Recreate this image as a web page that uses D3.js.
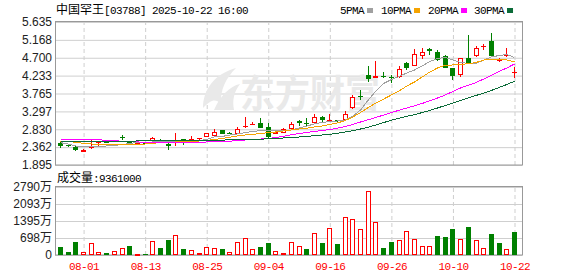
<!DOCTYPE html>
<html>
<head>
<meta charset="utf-8">
<title>中国罕王[03788]</title>
<script src="https://cdn.jsdelivr.net/npm/d3@7"></script>
<style>
  body { margin: 0; background: #fff; }
  svg { display: block; }
</style>
</head>
<body>
<div id="chart"></div>
<script>
// daily bars, 2025-07-29 .. 2025-10-22
var dates = ["07-29","07-30","07-31","08-01","08-04","08-05","08-06","08-07","08-08","08-11",
  "08-12","08-13","08-14","08-15","08-18","08-19","08-20","08-21","08-22","08-25",
  "08-26","08-27","08-28","08-29","09-01","09-02","09-03","09-04","09-05","09-08",
  "09-09","09-10","09-11","09-12","09-15","09-16","09-17","09-18","09-19","09-22",
  "09-23","09-24","09-25","09-26","09-29","09-30","10-02","10-03","10-06","10-08",
  "10-09","10-10","10-13","10-14","10-15","10-16","10-17","10-20","10-21","10-22"];

var opens = [2.463,2.419,2.366,2.235,2.348,2.463,2.505,2.505,2.615,2.489,
  2.437,2.479,2.523,2.549,2.452,2.541,2.568,2.568,2.568,2.636,
  2.654,2.811,2.740,2.706,2.876,2.960,2.994,2.897,2.706,2.732,
  2.829,3.046,2.986,2.986,3.159,3.033,3.072,3.072,3.378,3.700,
  4.249,4.178,4.231,4.197,4.184,4.550,4.497,4.733,4.929,4.843,
  4.746,4.427,4.249,4.681,4.733,4.981,5.130,4.628,4.738,4.314];
var highs = [2.484,2.432,2.379,2.303,2.536,2.531,2.518,2.549,2.680,2.502,
  2.497,2.489,2.620,2.568,2.463,2.740,2.575,2.654,2.602,2.745,
  2.829,2.816,2.753,2.897,3.138,3.020,3.125,3.002,2.772,2.850,
  3.007,3.059,3.112,3.221,3.172,3.229,3.085,3.295,3.713,3.857,
  4.497,4.628,4.335,4.249,4.497,4.597,4.937,4.955,4.963,4.903,
  4.759,4.437,4.699,5.303,5.020,5.047,5.355,4.681,4.963,4.458];
var lows = [2.332,2.371,2.262,2.228,2.314,2.400,2.466,2.497,2.541,2.424,
  2.424,2.450,2.505,2.489,2.280,2.400,2.419,2.505,2.549,2.628,
  2.646,2.693,2.693,2.698,2.863,2.934,2.850,2.568,2.693,2.719,
  2.816,2.902,2.915,2.973,2.986,3.020,3.028,3.059,3.365,3.595,
  4.074,4.171,4.158,4.040,4.176,4.380,4.490,4.660,4.759,4.628,
  4.432,4.105,4.197,4.537,4.725,4.895,4.720,4.589,4.720,4.171];
var closes = [2.400,2.385,2.293,2.298,2.400,2.484,2.479,2.531,2.602,2.437,
  2.479,2.463,2.594,2.497,2.385,2.555,2.505,2.581,2.594,2.719,
  2.766,2.698,2.701,2.845,2.915,2.973,2.855,2.628,2.758,2.824,
  2.968,3.002,2.968,3.159,3.072,3.085,3.051,3.237,3.661,3.679,
  4.144,4.231,4.210,4.176,4.398,4.445,4.790,4.843,4.864,4.641,
  4.445,4.210,4.688,4.550,4.947,5.000,4.746,4.647,4.759,4.327];

// volume in 万 shares
var volumes = [328,123,533,123,480,110,82,150,287,369,
  41,41,560,287,615,807,246,191,82,314,
  273,246,110,519,683,232,328,492,150,68,
  519,355,246,889,492,1094,451,1545,1463,1053,
  2626,1340,287,533,601,971,642,355,355,779,
  738,1067,642,1149,601,273,862,492,232,936.1];

var ma5 = [2.479,2.445,2.392,2.374,2.374,2.379,2.392,2.406,2.432,2.458,
  2.489,2.489,2.497,2.505,2.497,2.510,2.515,2.523,2.536,2.562,
  2.628,2.641,2.680,2.706,2.740,2.772,2.793,2.798,2.793,2.793,
  2.811,2.863,2.915,2.968,3.007,3.033,3.046,3.072,3.177,3.334,
  3.595,3.831,4.027,4.131,4.210,4.301,4.380,4.484,4.602,4.681,
  4.707,4.641,4.576,4.550,4.550,4.641,4.720,4.759,4.785,4.707];
var ma10 = [2.515,2.510,2.489,2.463,2.445,2.432,2.426,2.419,2.419,2.426,
  2.432,2.445,2.463,2.479,2.489,2.497,2.497,2.510,2.523,2.536,
  2.562,2.589,2.620,2.654,2.680,2.698,2.719,2.740,2.759,2.785,
  2.811,2.837,2.855,2.889,2.915,2.955,2.994,3.059,3.151,3.268,
  3.399,3.517,3.621,3.726,3.831,3.961,4.066,4.197,4.327,4.432,
  4.503,4.511,4.524,4.545,4.576,4.641,4.654,4.654,4.641,4.589];
var ma20 = [2.575,2.575,2.575,2.575,2.557,2.557,2.536,2.536,2.515,2.515,
  2.497,2.492,2.489,2.489,2.484,2.484,2.489,2.489,2.492,2.497,
  2.502,2.510,2.518,2.531,2.549,2.562,2.575,2.589,2.615,2.649,
  2.685,2.719,2.745,2.772,2.798,2.824,2.858,2.900,2.955,3.020,
  3.080,3.138,3.203,3.268,3.326,3.386,3.444,3.504,3.574,3.648,
  3.726,3.818,3.909,3.980,4.053,4.144,4.241,4.341,4.432,4.537];
var ma30 = [2.510,2.510,2.510,2.513,2.513,2.515,2.515,2.518,2.520,2.520,
  2.523,2.523,2.523,2.526,2.526,2.528,2.528,2.531,2.534,2.536,
  2.541,2.547,2.552,2.555,2.560,2.562,2.570,2.581,2.591,2.602,
  2.612,2.628,2.643,2.662,2.680,2.698,2.727,2.759,2.795,2.837,
  2.884,2.942,3.004,3.067,3.119,3.166,3.214,3.266,3.323,3.386,
  3.452,3.517,3.582,3.648,3.713,3.778,3.846,3.922,4.001,4.084];

var priceTicks = [1.895, 2.362, 2.830, 3.297, 3.765, 4.233, 4.700, 5.168, 5.635];
var volTicks = [0, 698, 1395, 2093, 2790];
var dateTicks = ["08-01","08-13","08-25","09-04","09-16","09-26","10-10","10-22"];

var maNames = ["5PMA", "10PMA", "20PMA", "30PMA"];
var maColors = ["#a0a0a0", "#f5a300", "#ff00ff", "#0b6b38"];
var maSeries = [ma5, ma10, ma20, ma30];

var width = 578, height = 276;
var left = 55, right = 522;
var upColor = "#ff0000", downColor = "#008000";
var monoFont = "'Liberation Mono', monospace";
var cjkFont = "'Noto Sans CJK SC', sans-serif";
var numFont = "'Liberation Sans', 'Noto Sans CJK SC', sans-serif";

var svg = d3.select("#chart").append("svg")
    .attr("width", width)
    .attr("height", height);

var x = d3.scalePoint().domain(dates).range([60, 514]);
var y = d3.scaleLinear().domain([1.895, 5.635]).range([165, 22]);
var yv = d3.scaleLinear().domain([0, 2790]).range([255, 187]);

function px(d) { return Math.round(x(d)); }

// ---- grids
function hGrid(scale, ticks) {
  svg.append("g")
    .attr("transform", "translate(" + left + ",0)")
    .call(d3.axisLeft(scale).tickValues(ticks).tickSize(-(right - left)).tickFormat(""))
    .call(function(g) { g.select(".domain").remove(); })
    .selectAll("line").attr("stroke", "#cfcfcf");
}
function vGrid(top, bottom) {
  svg.append("g")
    .attr("transform", "translate(0," + bottom + ")")
    .call(d3.axisBottom(x).tickValues(dateTicks).tickSize(-(bottom - top)).tickFormat(""))
    .call(function(g) { g.select(".domain").remove(); })
    .selectAll("line")
      .attr("stroke", "#cfcfcf")
      .attr("stroke-dasharray", "4,3")
      .attr("transform", "translate(0.5,0)");
}
hGrid(y, priceTicks);
hGrid(yv, volTicks);
vGrid(22, 165);
vGrid(187, 255);

// ---- watermark
var wm = svg.append("g").attr("fill", "#e9e9e9");
wm.append("path")
  .attr("d", "M203,108 C203,90 214,74 236,68 C226,78 220,90 221,104 C215,98 211,100 203,108 Z");
wm.append("path")
  .attr("d", "M214,110 C220,96 230,86 240,84 C234,92 232,100 234,110 Z");
wm.append("text")
  .attr("x", 240).attr("y", 107)
  .attr("font-family", cjkFont)
  .attr("font-weight", "bold")
  .attr("font-size", 38)
  .attr("textLength", 140)
  .attr("lengthAdjust", "spacingAndGlyphs")
  .text("东方财富");

// ---- frames
svg.append("rect").attr("x", left + 0.5).attr("y", 21.5)
  .attr("width", right - left).attr("height", 143.5)
  .attr("fill", "none").attr("stroke", "#999");
svg.append("rect").attr("x", left + 0.5).attr("y", 186.5)
  .attr("width", right - left).attr("height", 68.5)
  .attr("fill", "none").attr("stroke", "#999");

// ---- candles
var bars = dates.map(function(d, i) {
  return {
    date: d, o: opens[i], h: highs[i], l: lows[i], c: closes[i], v: volumes[i],
    up: closes[i] >= opens[i],
    volUp: i === 0 ? closes[0] >= opens[0] : closes[i] >= closes[i - 1]
  };
});

var cg = svg.append("g").attr("shape-rendering", "crispEdges");
bars.forEach(function(b) {
  var cx = px(b.date);
  var top = Math.round(y(Math.max(b.o, b.c)));
  var bot = Math.round(y(Math.min(b.o, b.c)));
  var hi = Math.round(y(b.h)), lo = Math.round(y(b.l));
  var col = b.up ? upColor : downColor;
  if (b.up) {
    cg.append("line").attr("x1", cx + 0.5).attr("x2", cx + 0.5)
      .attr("y1", hi).attr("y2", top).attr("stroke", col);
    cg.append("line").attr("x1", cx + 0.5).attr("x2", cx + 0.5)
      .attr("y1", bot).attr("y2", lo).attr("stroke", col);
    if (bot - top < 2) {
      cg.append("line").attr("x1", cx - 2).attr("x2", cx + 3)
        .attr("y1", top + 0.5).attr("y2", top + 0.5).attr("stroke", col);
    } else {
      cg.append("rect").attr("x", cx - 1.5).attr("y", top + 0.5)
        .attr("width", 4).attr("height", bot - top - 1)
        .attr("fill", "#fff").attr("stroke", col);
    }
  } else {
    cg.append("line").attr("x1", cx + 0.5).attr("x2", cx + 0.5)
      .attr("y1", hi).attr("y2", lo).attr("stroke", col);
    cg.append("rect").attr("x", cx - 2).attr("y", top)
      .attr("width", 5).attr("height", Math.max(1, bot - top))
      .attr("fill", col);
  }
});

// ---- moving averages
var maLine = d3.line()
  .x(function(d, i) { return x(dates[i]) + 0.5; })
  .y(function(d) { return y(d); });
maSeries.forEach(function(s, k) {
  svg.append("path")
    .datum(s)
    .attr("d", maLine)
    .attr("fill", "none")
    .attr("stroke", maColors[k])
    .attr("stroke-width", 1)
    .attr("shape-rendering", "crispEdges");
});

// ---- volume
var vg = svg.append("g").attr("shape-rendering", "crispEdges");
bars.forEach(function(b) {
  var cx = px(b.date);
  var top = Math.round(yv(b.v));
  if (b.volUp) {
    vg.append("rect").attr("x", cx - 1.5).attr("y", top + 0.5)
      .attr("width", 4).attr("height", Math.max(0.5, 255 - top - 1))
      .attr("fill", "#fff").attr("stroke", upColor);
  } else {
    vg.append("rect").attr("x", cx - 2).attr("y", top)
      .attr("width", 5).attr("height", 255 - top)
      .attr("fill", downColor);
  }
});

// ---- axis labels
svg.append("g")
  .attr("transform", "translate(" + left + ",0)")
  .call(d3.axisLeft(y).tickValues(priceTicks).tickSize(0).tickPadding(3).tickFormat(d3.format(".3f")))
  .call(function(g) { g.select(".domain").remove(); })
  .selectAll("text")
    .attr("font-family", numFont).attr("font-size", 12).attr("fill", "#222");

svg.append("g")
  .attr("transform", "translate(" + left + ",0)")
  .call(d3.axisLeft(yv).tickValues(volTicks).tickSize(0).tickPadding(3)
    .tickFormat(function(d) { return d === 0 ? "0" : d + "万"; }))
  .call(function(g) { g.select(".domain").remove(); })
  .selectAll("text")
    .attr("font-family", numFont).attr("font-size", 12).attr("fill", "#222");

svg.append("g")
  .attr("transform", "translate(0.5,255)")
  .call(d3.axisBottom(x).tickValues(dateTicks).tickSize(0).tickPadding(7))
  .call(function(g) { g.select(".domain").remove(); })
  .selectAll("text")
    .attr("font-family", monoFont).attr("font-size", 11)
    .attr("letter-spacing", "-0.6px").attr("fill", upColor);

// ---- header
var title = svg.append("text").attr("x", 56).attr("y", 14).attr("fill", "#000");
title.append("tspan").attr("font-family", cjkFont).attr("font-size", 12).text("中国罕王");
title.append("tspan").attr("font-family", monoFont).attr("font-size", 11)
  .attr("letter-spacing", "-0.6px").text("[03788] 2025-10-22 16:00");

var legendX = [340, 381, 428, 474];
maNames.forEach(function(name, k) {
  var t = svg.append("text").attr("x", legendX[k]).attr("y", 14)
    .attr("font-family", monoFont).attr("font-size", 11)
    .attr("letter-spacing", "-0.6px").attr("fill", "#000").text(name);
  var w = t.node().getComputedTextLength();
  svg.append("rect").attr("x", legendX[k] + w + 3).attr("y", 8)
    .attr("width", 6).attr("height", 5).attr("fill", maColors[k]);
});

var vtitle = svg.append("text").attr("x", 57).attr("y", 182).attr("fill", "#000");
vtitle.append("tspan").attr("font-family", cjkFont).attr("font-size", 12).text("成交量");
vtitle.append("tspan").attr("font-family", monoFont).attr("font-size", 11)
  .attr("letter-spacing", "-0.6px")
  .text(":" + d3.format("d")(Math.round(volumes[volumes.length - 1] * 10000)));
</script>
</body>
</html>
